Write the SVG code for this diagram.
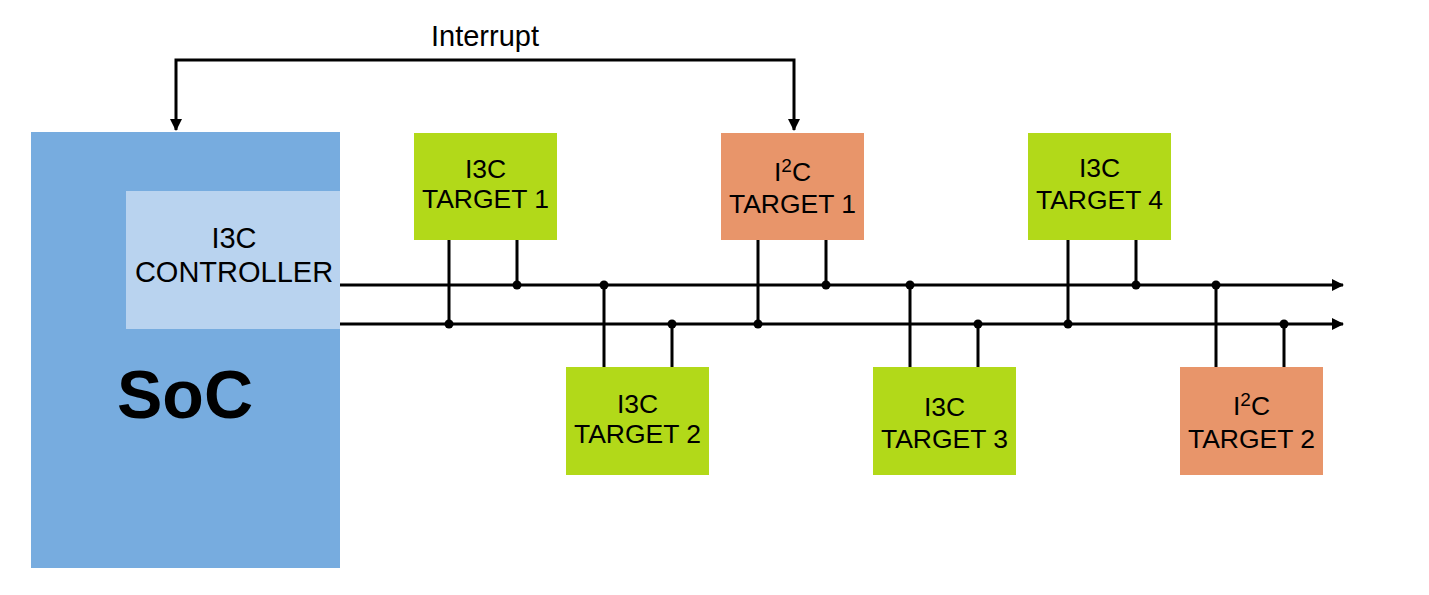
<svg xmlns="http://www.w3.org/2000/svg" width="1429" height="595" viewBox="0 0 1429 595">
<defs>
<marker id="arr" viewBox="0 0 12 12" refX="11" refY="6" markerWidth="12" markerHeight="12" markerUnits="userSpaceOnUse" orient="auto-start-reverse">
<path d="M0,0 L12,6 L0,12 Z" fill="#000"/>
</marker>
<style>
.ln{stroke:#000;stroke-width:3;fill:none}
.dot{fill:#000}
.t{font-family:"Liberation Sans",Arial,sans-serif;font-size:26.5px;fill:#000;text-anchor:middle}
.g{fill:#B2D919}
.o{fill:#E8956A}
</style>
</defs>
<rect width="1429" height="595" fill="#fff"/>
<g id="soc">
<rect x="31" y="132" width="309" height="436" fill="#77ACDF"/>
<text x="185" y="418" font-family="Liberation Sans,Arial,sans-serif" font-size="68" font-weight="bold" text-anchor="middle" fill="#000">SoC</text>
</g>
<g id="controller">
<rect x="126" y="191" width="214" height="138" fill="#B9D3EF"/>
<text class="t" x="234" y="248" style="font-size:29px">I3C</text>
<text class="t" x="234" y="282" style="font-size:29px">CONTROLLER</text>
</g>
<g id="i3c-t1">
<rect class="g" x="414" y="133" width="143" height="107"/>
<text class="t" x="485.5" y="178">I3C</text>
<text class="t" x="485.5" y="208">TARGET 1</text>
</g>
<g id="i2c-t1">
<rect class="o" x="721" y="133" width="143" height="107"/>
<text class="t" x="792.5" y="181">I<tspan dy="-9" font-size="19">2</tspan><tspan dy="9">C</tspan></text>
<text class="t" x="792.5" y="213">TARGET 1</text>
</g>
<g id="i3c-t4">
<rect class="g" x="1028" y="133" width="143" height="107"/>
<text class="t" x="1099.5" y="177">I3C</text>
<text class="t" x="1099.5" y="209">TARGET 4</text>
</g>
<g id="i3c-t2">
<rect class="g" x="566" y="367" width="143" height="108"/>
<text class="t" x="637.5" y="413">I3C</text>
<text class="t" x="637.5" y="443">TARGET 2</text>
</g>
<g id="i3c-t3">
<rect class="g" x="873" y="367" width="143" height="108"/>
<text class="t" x="944.5" y="416">I3C</text>
<text class="t" x="944.5" y="448">TARGET 3</text>
</g>
<g id="i2c-t2">
<rect class="o" x="1180" y="367" width="143" height="108"/>
<text class="t" x="1251.5" y="415">I<tspan dy="-9" font-size="19">2</tspan><tspan dy="9">C</tspan></text>
<text class="t" x="1251.5" y="448">TARGET 2</text>
</g>
<g id="connectors">
<text class="t" x="485" y="46" style="font-size:29px">Interrupt</text>
<path class="ln" d="M794,130 V60 H176 V130" marker-start="url(#arr)" marker-end="url(#arr)"/>
<path class="ln" d="M340,285 H1343" marker-end="url(#arr)"/>
<path class="ln" d="M340,324 H1343" marker-end="url(#arr)"/>
<path class="ln" d="M449,240 V324 M517,240 V285 M758,240 V324 M826,240 V285 M1068,240 V324 M1136,240 V285 M604,285 V367 M672,324 V367 M910,285 V367 M978,324 V367 M1216,285 V367 M1284,324 V367"/>
<circle class="dot" cx="449" cy="324" r="4.5"/>
<circle class="dot" cx="517" cy="285" r="4.5"/>
<circle class="dot" cx="758" cy="324" r="4.5"/>
<circle class="dot" cx="826" cy="285" r="4.5"/>
<circle class="dot" cx="1068" cy="324" r="4.5"/>
<circle class="dot" cx="1136" cy="285" r="4.5"/>
<circle class="dot" cx="604" cy="285" r="4.5"/>
<circle class="dot" cx="672" cy="324" r="4.5"/>
<circle class="dot" cx="910" cy="285" r="4.5"/>
<circle class="dot" cx="978" cy="324" r="4.5"/>
<circle class="dot" cx="1216" cy="285" r="4.5"/>
<circle class="dot" cx="1284" cy="324" r="4.5"/>
</g>
</svg>
